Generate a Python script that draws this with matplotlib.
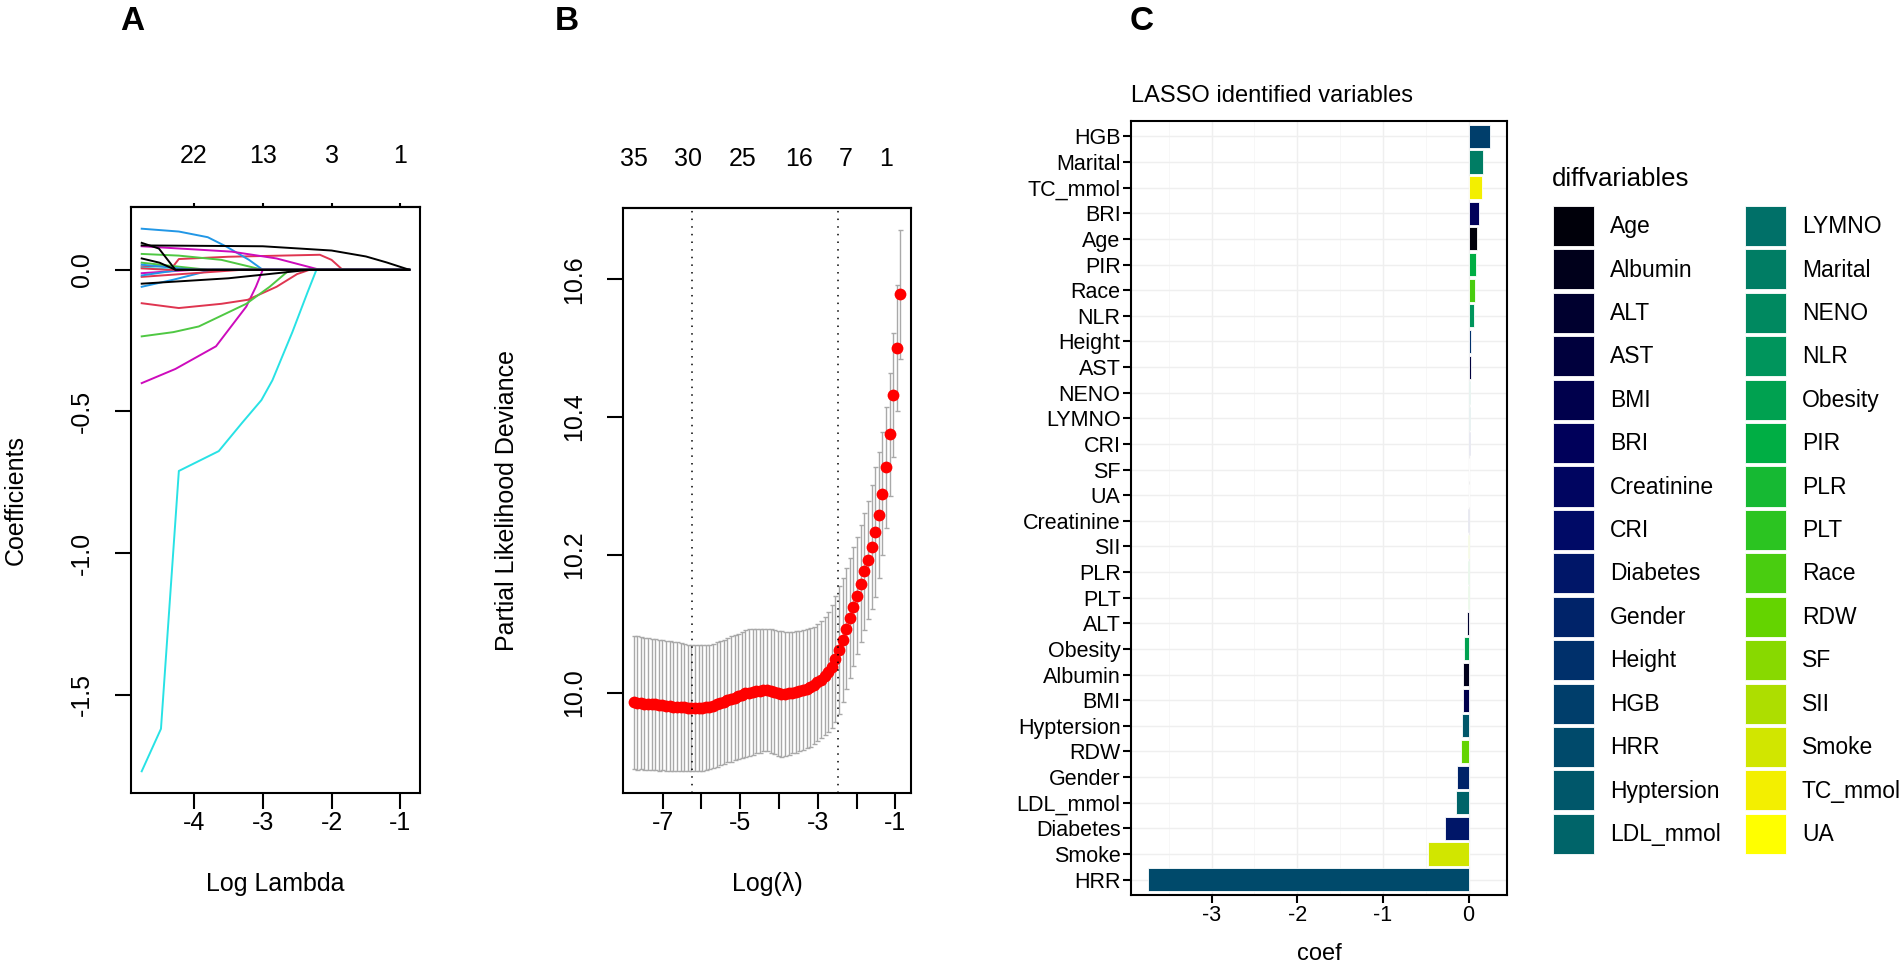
import numpy as np
import matplotlib
matplotlib.use("Agg")
import matplotlib.pyplot as plt
from matplotlib.colors import LinearSegmentedColormap
from matplotlib.patches import Patch
from matplotlib.ticker import MultipleLocator, FormatStrFormatter

plt.rcParams['font.family'] = ['Liberation Sans', 'DejaVu Sans']
plt.rcParams['axes.unicode_minus'] = False

W, H = 1902, 963

# ---------------- A: lasso coefficient paths (knots: log lambda, coef)
path_x = [
    [-4.76, -4.3, -4.22, -3.5, -2.17, -2.0, -1.84, -0.87],
    [-4.76, -4.22, -3.6, -3.0, -0.87],
    [-4.76, -4.22, -3.8, -3.53, -3.2, -3.0, -0.87],
    [-4.76, -4.48, -4.22, -3.64, -3.3, -3.02, -2.86, -2.57, -2.35, -2.22, -0.87],
    [-4.76, -3.45, -2.8, -2.17, -0.87],
    [-4.76, -4.27, -3.68, -3.24, -3.1, -3.0, -0.87],
    [-4.76, -4.22, -3.6, -3.22, -2.8, -2.5, -2.32, -0.87],
    [-4.76, -4.3, -3.93, -3.24, -2.9, -2.61, -0.87],
    [-4.76, -4.3, -3.73, -0.87],
    [-4.76, -3.3, -0.87],
    [-4.76, -3.8, -0.87],
    [-4.76, -4.0, -0.87],
    [-4.76, -4.3, -0.87],
    [-4.76, -4.0, -0.87],
    [-4.76, -4.2, -0.87],
    [-4.76, -4.4, -0.87],
    [-4.76, -4.51, -4.27, -0.87],
    [-4.76, -4.5, -4.27, -0.87],
    [-4.76, -3.5, -2.32, -0.87],
    [-4.76, -3.0, -2.0, -1.5, -1.2, -0.87],
]
path_y = [
    [0.012, 0.013, 0.038, 0.046, 0.053, 0.035, 0.0, 0.0],
    [0.056, 0.05, 0.035, 0.0, 0.0],
    [0.145, 0.135, 0.115, 0.082, 0.035, 0.0, 0.0],
    [-1.77, -1.62, -0.71, -0.64, -0.54, -0.46, -0.39, -0.22, -0.08, 0.0, 0.0],
    [0.083, 0.064, 0.04, 0.0, 0.0],
    [-0.40, -0.35, -0.27, -0.13, -0.06, 0.0, 0.0],
    [-0.118, -0.135, -0.12, -0.106, -0.06, -0.015, 0.0, 0.0],
    [-0.235, -0.22, -0.20, -0.12, -0.06, 0.0, 0.0],
    [-0.06, -0.035, 0.0, 0.0],
    [-0.025, 0.0, 0.0],
    [0.025, 0.0, 0.0],
    [0.018, 0.0, 0.0],
    [0.008, 0.0, 0.0],
    [-0.012, 0.0, 0.0],
    [-0.02, 0.0, 0.0],
    [0.005, 0.0, 0.0],
    [0.095, 0.075, 0.0, 0.0],
    [0.04, 0.025, 0.0, 0.0],
    [-0.049, -0.03, 0.0, 0.0],
    [0.086, 0.083, 0.068, 0.047, 0.026, 0.0],
]
path_colors = ["#DF3550", "#4FC843", "#2297E6", "#28E2E5", "#CD0BBC", "#CD0BBC",
               "#DF3550", "#4FC843", "#2297E6", "#DF3550", "#4FC843", "#2297E6",
               "#28E2E5", "#CD0BBC", "#2297E6", "#DF3550", "#000000", "#000000",
               "#000000", "#000000"]
a_ticks = [-4, -3, -2, -1]
a_df = ["22", "13", "3", "1"]

# ---------------- B: cross-validation curve
b_first, b_last, b_n = -7.75, -0.87, 75
dev_mean = [9.986, 9.985, 9.985, 9.984, 9.984, 9.983, 9.983, 9.982, 9.982, 9.981,
            9.981, 9.980, 9.980, 9.979, 9.979, 9.978, 9.978, 9.978, 9.978, 9.978,
            9.979, 9.980, 9.981, 9.983, 9.985, 9.987, 9.989, 9.991, 9.993, 9.995,
            9.997, 9.999, 10.000, 10.001, 10.002, 10.003, 10.004, 10.004, 10.003, 10.001,
            9.999, 9.998, 9.998, 9.999, 10.000, 10.001, 10.002, 10.004, 10.006, 10.008,
            10.011, 10.015, 10.019, 10.024, 10.030, 10.038, 10.049, 10.062, 10.077, 10.093,
            10.109, 10.125, 10.141, 10.158, 10.176, 10.193, 10.212, 10.233, 10.258, 10.289,
            10.327, 10.375, 10.432, 10.500, 10.578]
dev_sd = [0.097, 0.097, 0.096, 0.096, 0.096, 0.095, 0.095, 0.095, 0.094, 0.094,
          0.094, 0.093, 0.093, 0.093, 0.092, 0.092, 0.092, 0.091, 0.091, 0.091,
          0.091, 0.090, 0.090, 0.090, 0.090, 0.090, 0.090, 0.091, 0.091, 0.091,
          0.091, 0.092, 0.092, 0.091, 0.090, 0.090, 0.089, 0.089, 0.090, 0.090,
          0.091, 0.091, 0.090, 0.089, 0.088, 0.088, 0.087, 0.087, 0.086, 0.086,
          0.085, 0.085, 0.085, 0.086, 0.087, 0.089, 0.091, 0.093, 0.090, 0.088,
          0.087, 0.086, 0.085, 0.085, 0.085, 0.086, 0.090, 0.094, 0.092, 0.089,
          0.088, 0.089, 0.090, 0.091, 0.094]
lam_min, lam_1se = -6.25, -2.47
b_top_pos = [-7.75, -6.36, -4.93, -3.48, -2.29, -1.23]
b_top_lab = ["35", "30", "25", "16", "7", "1"]

# ---------------- C: coefficients of selected variables
var_names = ["HGB", "Marital", "TC_mmol", "BRI", "Age", "PIR", "Race", "NLR", "Height",
             "AST", "NENO", "LYMNO", "CRI", "SF", "UA", "Creatinine", "SII", "PLR", "PLT",
             "ALT", "Obesity", "Albumin", "BMI", "Hyptersion", "RDW", "Gender",
             "LDL_mmol", "Diabetes", "Smoke", "HRR"]
var_coef = [0.248, 0.163, 0.151, 0.12, 0.093, 0.081, 0.078, 0.066, 0.031,
            0.023, 0.019, 0.016, 0.012, 0.008, 0.004, -0.002, -0.003, -0.004, -0.005,
            -0.02, -0.05, -0.065, -0.068, -0.075, -0.09, -0.135,
            -0.15, -0.28, -0.47, -3.74]
legend_order = ["Age", "Albumin", "ALT", "AST", "BMI", "BRI", "Creatinine", "CRI",
                "Diabetes", "Gender", "Height", "HGB", "HRR", "Hyptersion", "LDL_mmol",
                "LYMNO", "Marital", "NENO", "NLR", "Obesity", "PIR", "PLR", "PLT",
                "Race", "RDW", "SF", "SII", "Smoke", "TC_mmol", "UA"]


def box(l, t, r, b):
    return [l / W, 1 - b / H, (r - l) / W, (b - t) / H]


def r_style(ax):
    for s in ax.spines.values():
        s.set_linewidth(1.5)
    ax.tick_params(axis='both', direction='out', length=11.5, width=1.5,
                   labelsize=18)
    ax.tick_params(axis='y', pad=24)
    ax.tick_params(axis='x', pad=10)
    for lab in ax.get_yticklabels():
        lab.set_rotation(90)
        lab.set_va('center')
        lab.set_ha('center')
    for lab in ax.get_xticklabels():
        lab.set_va('center')


fig = plt.figure(figsize=(W / 100, H / 100), dpi=100)

# ---- panel A
ax_a = fig.add_axes(box(131, 207, 420, 793))
for xs, ys, c in zip(path_x, path_y, path_colors):
    ax_a.plot(xs, ys, color=c, lw=1.4)
ax_a.margins(0.04)
ax_a.set_xticks(a_ticks)
ax_a.set_yticks([-1.5, -1.0, -0.5, 0.0])
ax_a.yaxis.set_major_formatter(FormatStrFormatter('%.1f'))
r_style(ax_a)
top_a = ax_a.secondary_xaxis('top')
top_a.set_xticks(a_ticks, labels=a_df)
top_a.tick_params(length=3, width=1.5, labelsize=18, pad=34)
for lab in top_a.get_xticklabels():
    lab.set_va('center')
top_a.spines['top'].set_linewidth(1.5)
ax_a.set_xlabel("Log Lambda", fontsize=18, va='center')
ax_a.xaxis.set_label_coords(0.5, -0.156)
ax_a.set_ylabel("Coefficients", fontsize=18, va='center')
ax_a.yaxis.set_label_coords(-0.40, 0.5)

# ---- panel B
ax_b = fig.add_axes(box(623, 208, 911, 793))
loglam_b = np.linspace(b_first, b_last, b_n)
ax_b.errorbar(loglam_b, dev_mean, yerr=dev_sd, fmt='none', ecolor='#A9A9A9',
              elinewidth=1.0, capsize=1.8, capthick=1.0)
ax_b.plot(loglam_b, dev_mean, 'o', color='red', ms=8.5, mec='none')
for v in (lam_min, lam_1se):
    ax_b.axvline(v, color='black', lw=1.1, ls=(0, (1, 4)))
ax_b.margins(0.04)
ax_b.set_xticks([-7, -6, -5, -4, -3, -2, -1],
                labels=["-7", "", "-5", "", "-3", "", "-1"])
ax_b.set_yticks([10.0, 10.2, 10.4, 10.6])
ax_b.yaxis.set_major_formatter(FormatStrFormatter('%.1f'))
r_style(ax_b)
top_b = ax_b.secondary_xaxis('top')
top_b.set_xticks(b_top_pos, labels=b_top_lab)
top_b.tick_params(length=0, labelsize=18, pad=35)
for lab in top_b.get_xticklabels():
    lab.set_va('center')
top_b.spines['top'].set_linewidth(1.5)
ax_b.set_xlabel("Log(λ)", fontsize=18, va='center')
ax_b.xaxis.set_label_coords(0.5, -0.156)
ax_b.set_ylabel("Partial Likelihood Deviance", fontsize=18, va='center')
ax_b.yaxis.set_label_coords(-116 / 288, 0.5)

# ---- panel C
cmap = LinearSegmentedColormap.from_list(
    "diffv", [(0.0, "#00000a"), (0.069, "#000030"), (0.172, "#00005a"),
              (0.241, "#000a66"), (0.345, "#00306b"), (0.414, "#004b6b"),
              (0.517, "#007068"), (0.621, "#00955c"), (0.69, "#00ae44"),
              (0.759, "#2ac422"), (0.828, "#64d400"), (0.897, "#acde00"),
              (0.966, "#f2ee00"), (1.0, "#ffff00")])
col_of = {n: cmap(i / (len(legend_order) - 1)) for i, n in enumerate(legend_order)}

ax_c = fig.add_axes(box(1131, 121, 1507, 895))
ypos = np.arange(len(var_names))
ax_c.barh(ypos, var_coef, height=0.9, color=[col_of[n] for n in var_names],
          edgecolor='white', linewidth=0.6, zorder=2)
ax_c.set_yticks(ypos, labels=var_names)
ax_c.set_ylim(len(var_names) - 0.4, -0.6)
ax_c.margins(x=0.05)
ax_c.set_xticks([-3, -2, -1, 0])
ax_c.xaxis.set_minor_locator(MultipleLocator(0.5))
ax_c.set_axisbelow(True)
ax_c.grid(True, which='major', color='#efefef', lw=1.0)
ax_c.grid(True, which='minor', axis='x', color='#f6f6f6', lw=0.6)
for s in ax_c.spines.values():
    s.set_linewidth(1.5)
ax_c.tick_params(which='major', length=5.5, width=1.5, labelsize=15.5, pad=2,
                 colors='black')
ax_c.tick_params(which='minor', length=0)
ax_c.set_xlabel("coef", fontsize=17, labelpad=12)
ax_c.set_title("LASSO identified variables", loc='left', fontsize=17, pad=14)

handles = [Patch(facecolor=col_of[n], edgecolor='white', lw=0.6) for n in legend_order]
leg = fig.legend(handles, legend_order, ncol=2, loc='upper left',
                 bbox_to_anchor=(1553 / W, 1 - 206 / H), frameon=False,
                 fontsize=16.5, handlelength=1.79, handleheight=2.31,
                 labelspacing=0.148, handletextpad=0.7, columnspacing=1.05,
                 borderpad=0, borderaxespad=0)
fig.text(1552 / W, 1 - 179 / H, "diffvariables", fontsize=18.5, ha='left', va='center')

# ---- panel letters
for lab, xp in (("A", 132), ("B", 567), ("C", 1142)):
    fig.text(xp / W, 1 - 22 / H, lab, fontsize=24, fontweight='bold',
             ha='center', va='center')

fig.savefig("out.png", dpi=100)
